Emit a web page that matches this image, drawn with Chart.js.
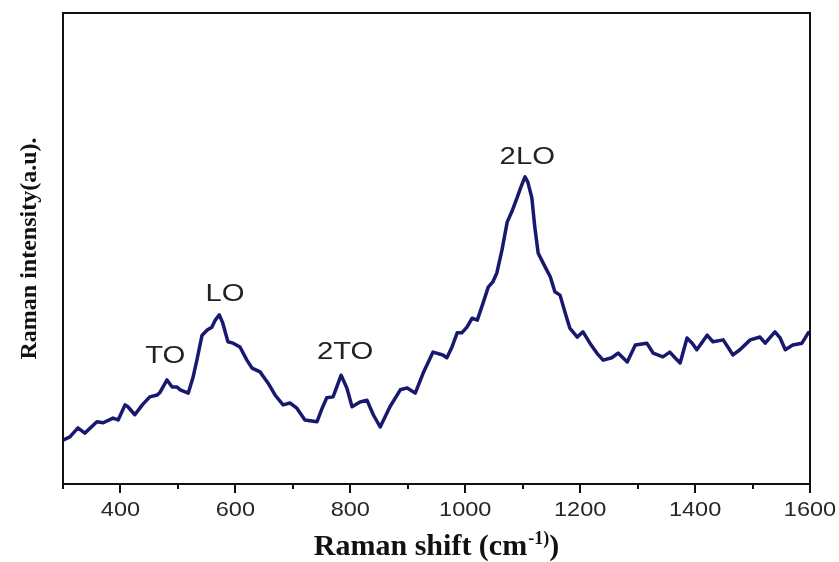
<!DOCTYPE html>
<html>
<head>
<meta charset="utf-8">
<script src="https://cdn.jsdelivr.net/npm/chart.js@4/dist/chart.umd.min.js"></script>
<style>
  html, body { margin: 0; padding: 0; background: #ffffff; }
  #wrap { width: 839px; height: 562px; position: relative; }
</style>
</head>
<body>
<div id="wrap"><canvas id="c" width="839" height="562"></canvas></div>
<script>
// Raman shift (cm^-1)
const ramanShift = [300,312,326,338,359,370,387,396,408,413,425,438,451,464,469,481,490,498,504,518,526,533,542,551,559,565,572,578,587,596,608,620,629,643,657,669,683,695,707,721,742,751,759,770,784,794,803,817,829,840,852,869,887,899,913,927,944,961,968,977,986,994,1003,1012,1021,1031,1040,1048,1055,1064,1073,1081,1090,1097,1104,1109,1116,1121,1127,1139,1148,1156,1165,1174,1182,1195,1205,1217,1229,1240,1255,1266,1282,1296,1316,1327,1344,1356,1365,1374,1386,1395,1403,1421,1431,1449,1466,1478,1496,1513,1522,1539,1548,1557,1570,1586,1597,1600];
// Raman intensity (a.u.)
const intensity = [9.3,10.0,11.9,10.8,13.2,13.0,14.0,13.6,16.8,16.4,14.7,16.8,18.5,18.9,19.5,22.1,20.6,20.6,20.0,19.3,22.5,26.3,31.6,32.7,33.3,34.8,35.9,34.2,30.2,29.9,29.1,26.3,24.6,23.8,21.4,18.9,16.8,17.2,16.1,13.6,13.2,16.1,18.3,18.5,23.1,20.4,16.4,17.4,17.8,14.7,12.1,16.4,20.0,20.4,19.3,23.6,28.0,27.4,26.8,29.1,32.1,32.1,33.3,35.2,34.8,38.4,41.8,42.9,44.8,49.7,55.6,57.8,60.7,63.1,65.2,64.1,60.7,54.6,49.0,46.1,44.0,40.8,40.1,36.3,33.1,31.2,32.3,29.9,27.8,26.3,26.8,27.8,25.9,29.5,29.9,27.8,27.0,28.0,26.8,25.7,31.0,29.9,28.5,31.6,30.2,30.6,27.4,28.5,30.6,31.2,29.9,32.3,31.0,28.5,29.5,29.9,32.1,32.2];
// x tick labels shown
const xTickLabels = [400,600,800,1000,1200,1400,1600];
// minor tick positions
const xMinorTicks = [300,500,700,900,1100,1300,1500];
// peak annotations
const peakNames = ["TO","LO","2TO","2LO"];
const peakX = [478,582,791,1108];
const peakY = [27.0,40.3,28.0,69.4];

const points = ramanShift.map((x,i)=>({x:x,y:intensity[i]}));

function stretchedText(ctx, text, x, y, sx) {
  ctx.save();
  ctx.translate(x, y);
  ctx.scale(sx, 1);
  ctx.fillText(text, 0, 0);
  ctx.restore();
}

const framePlugin = {
  id: 'frame',
  afterDraw(chart) {
    const ctx = chart.ctx;
    const a = chart.chartArea;
    const xs = chart.scales.x, ys = chart.scales.y;
    ctx.save();
    // peak annotations
    ctx.fillStyle = '#222222';
    ctx.font = '24px "Liberation Sans", Arial, sans-serif';
    ctx.textAlign = 'center';
    ctx.textBaseline = 'middle';
    peakNames.forEach((n,i)=>{
      stretchedText(ctx, n, xs.getPixelForValue(peakX[i]), ys.getPixelForValue(peakY[i]), 1.22);
    });
    // frame
    ctx.strokeStyle = '#111111';
    ctx.lineWidth = 2;
    ctx.strokeRect(a.left, a.top, a.right - a.left, a.bottom - a.top);
    // ticks
    xTickLabels.forEach(v=>{
      const px = Math.round(xs.getPixelForValue(v));
      ctx.beginPath(); ctx.moveTo(px, a.bottom); ctx.lineTo(px, a.bottom + 9); ctx.stroke();
    });
    xMinorTicks.forEach(v=>{
      const px = Math.round(xs.getPixelForValue(v));
      ctx.beginPath(); ctx.moveTo(px, a.bottom); ctx.lineTo(px, a.bottom + 5); ctx.stroke();
    });
    // tick labels
    ctx.fillStyle = '#262626';
    ctx.font = '21px "Liberation Sans", Arial, sans-serif';
    ctx.textAlign = 'center';
    ctx.textBaseline = 'middle';
    xTickLabels.forEach(v=>{
      stretchedText(ctx, String(v), xs.getPixelForValue(v), a.bottom + 26, 1.12);
    });
    // x title with superscript
    ctx.fillStyle = '#111111';
    ctx.textAlign = 'left';
    ctx.textBaseline = 'alphabetic';
    const fMain = 'bold 30px "Liberation Serif", "Times New Roman", serif';
    const fSup = 'bold 18px "Liberation Serif", "Times New Roman", serif';
    const t1 = 'Raman shift (cm', t2 = '-1)', t3 = ')';
    ctx.font = fMain; const w1 = ctx.measureText(t1).width, w3 = ctx.measureText(t3).width;
    ctx.font = fSup; const w2 = ctx.measureText(t2).width;
    const total = w1 + w2 + w3 + 1;
    let tx = (a.left + a.right) / 2 - total / 2;
    const base = 555;
    ctx.font = fMain; ctx.fillText(t1, tx, base); tx += w1;
    ctx.font = fSup; ctx.fillText(t2, tx + 1, base - 11); tx += w2 + 1;
    ctx.font = fMain; ctx.fillText(t3, tx, base);
    // y title
    ctx.translate(30, (a.top + a.bottom) / 2);
    ctx.rotate(-Math.PI / 2);
    ctx.textAlign = 'center';
    ctx.textBaseline = 'middle';
    ctx.font = 'bold 24px "Liberation Serif", "Times New Roman", serif';
    ctx.fillText('Raman intensity(a.u).', 0, 0);
    ctx.restore();
  }
};

new Chart(document.getElementById('c'), {
  type: 'line',
  data: {
    datasets: [{
      data: points,
      borderColor: '#18186e',
      borderWidth: 3.5,
      pointRadius: 0,
      tension: 0,
      fill: false,
      borderJoinStyle: 'round',
      borderCapStyle: 'round'
    }]
  },
  options: {
    responsive: false,
    animation: false,
    devicePixelRatio: 1,
    layout: { padding: { left: 63, right: 29, top: 13, bottom: 0 } },
    plugins: { legend: { display: false }, tooltip: { enabled: false } },
    scales: {
      x: {
        type: 'linear',
        min: 300,
        max: 1600,
        afterFit: (s) => { s.height = 78; },
        ticks: { display: false },
        grid: { display: false },
        border: { display: false }
      },
      y: {
        display: false,
        min: 0,
        max: 100
      }
    }
  },
  plugins: [framePlugin]
});
</script>
</body>
</html>
